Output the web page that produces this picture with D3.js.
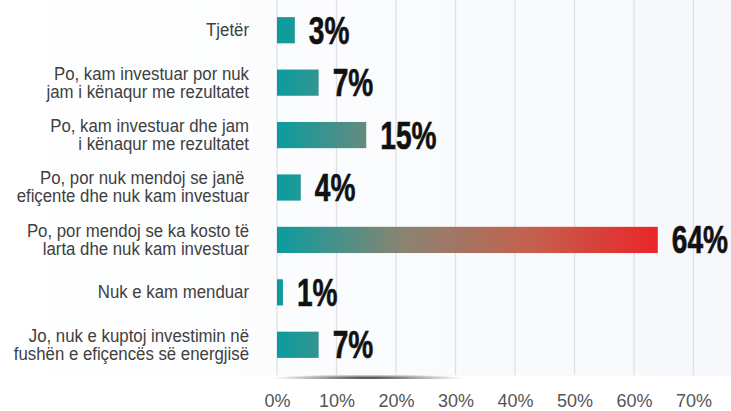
<!DOCTYPE html>
<html>
<head>
<meta charset="utf-8">
<script src="https://cdn.jsdelivr.net/npm/d3@7"></script>
<style>
  html, body { margin: 0; padding: 0; background: #fff; }
  svg { display: block; }
</style>
</head>
<body>
<div id="chart"></div>
<script>
const categories = [
  'Tjetër',
  'Po, kam investuar por nuk\njam i kënaqur me rezultatet',
  'Po, kam investuar dhe jam\ni kënaqur me rezultatet',
  'Po, por nuk mendoj se janë \nefiçente dhe nuk kam investuar',
  'Po, por mendoj se ka kosto të\nlarta dhe nuk kam investuar',
  'Nuk e kam menduar',
  'Jo, nuk e kuptoj investimin në\nfushën e efiçencës së energjisë'
];
const values = [3, 7, 15, 4, 64, 1, 7];
const ticks = [0, 10, 20, 30, 40, 50, 60, 70];

const width = 731, height = 411;
const font = '"Liberation Sans", Arial, sans-serif';

const svg = d3.select('#chart').append('svg')
  .attr('width', width)
  .attr('height', height);

const defs = svg.append('defs');

const x = d3.scaleLinear().domain([0, 70]).range([277, 693.5]);
const y = d3.scaleBand().domain(d3.range(categories.length)).range([4, 371]).paddingInner(0.5).paddingOuter(0.25);

// background
const bg = defs.append('linearGradient').attr('id', 'bg').attr('x1', 0).attr('x2', 1).attr('y1', 0).attr('y2', 0);
bg.append('stop').attr('offset', 0).attr('stop-color', '#ffffff');
bg.append('stop').attr('offset', 1).attr('stop-color', '#f6f8fb');
svg.append('rect').attr('width', width).attr('height', 376).attr('fill', 'url(#bg)');

// bar gradient, spread over the axis from 0 to the largest value
const grad = defs.append('linearGradient').attr('id', 'barGrad')
  .attr('gradientUnits', 'userSpaceOnUse')
  .attr('x1', x(0)).attr('x2', x(d3.max(values))).attr('y1', 0).attr('y2', 0);
grad.append('stop').attr('offset', 0).attr('stop-color', '#0a9c9f');
grad.append('stop').attr('offset', 0.33).attr('stop-color', '#8a8472');
grad.append('stop').attr('offset', 0.66).attr('stop-color', '#c3624f');
grad.append('stop').attr('offset', 1).attr('stop-color', '#ea2529');

// shadow under the plot
const sh = defs.append('radialGradient').attr('id', 'shadow');
sh.append('stop').attr('offset', 0).attr('stop-color', '#000').attr('stop-opacity', 0.75);
sh.append('stop').attr('offset', 1).attr('stop-color', '#000').attr('stop-opacity', 0);
svg.append('ellipse').attr('cx', 368).attr('cy', 378).attr('rx', 95).attr('ry', 3.5).attr('fill', 'url(#shadow)');
svg.append('rect').attr('x', 0).attr('y', 379).attr('width', width).attr('height', 32).attr('fill', '#fff');

// grid
svg.append('g').selectAll('line').data(ticks).join('line')
  .attr('x1', d => x(d)).attr('x2', d => x(d))
  .attr('y1', 0).attr('y2', 375)
  .attr('stroke', '#dfe0e3').attr('stroke-width', 1.3);

// x axis labels
const xAxis = svg.append('g')
  .attr('transform', 'translate(0,394)')
  .call(d3.axisBottom(x).tickValues(ticks).tickFormat(d => d + '%').tickSize(0).tickPadding(0));
xAxis.select('.domain').remove();
xAxis.selectAll('text')
  .attr('fill', '#555')
  .attr('dy', '0.71em')
  .style('font-family', font)
  .style('font-size', '18px');

// bars
svg.append('g').selectAll('rect').data(values).join('rect')
  .attr('x', x(0))
  .attr('y', (d, i) => y(i))
  .attr('width', d => x(d) - x(0))
  .attr('height', y.bandwidth())
  .attr('fill', 'url(#barGrad)');

// value labels (condensed bold)
svg.append('g').selectAll('text').data(values).join('text')
  .attr('transform', (d, i) => `translate(${x(d) + 14},${y(i) + y.bandwidth() / 2 + 13.5}) scale(0.74,1)`)
  .attr('fill', '#111')
  .attr('stroke', '#111')
  .attr('stroke-width', 0.6)
  .style('font-family', font)
  .style('font-weight', 'bold')
  .style('font-size', '38px')
  .text(d => d + '%');

// category labels
const cat = svg.append('g').selectAll('text').data(categories).join('text')
  .attr('text-anchor', 'end')
  .attr('transform', 'translate(249,0) scale(0.96,1)')
  .attr('fill', '#404040')
  .style('font-family', font)
  .style('font-size', '17.5px');
cat.each(function (d, i) {
  const lines = d.split('\n');
  const cy = y(i) + y.bandwidth() / 2;
  const lh = 18;
  const top = cy - (lines.length - 1) * lh / 2 + 6;
  d3.select(this).selectAll('tspan').data(lines).join('tspan')
    .attr('x', 0)
    .attr('y', (l, j) => top + j * lh)
    .text(l => l);
});
</script>
</body>
</html>
